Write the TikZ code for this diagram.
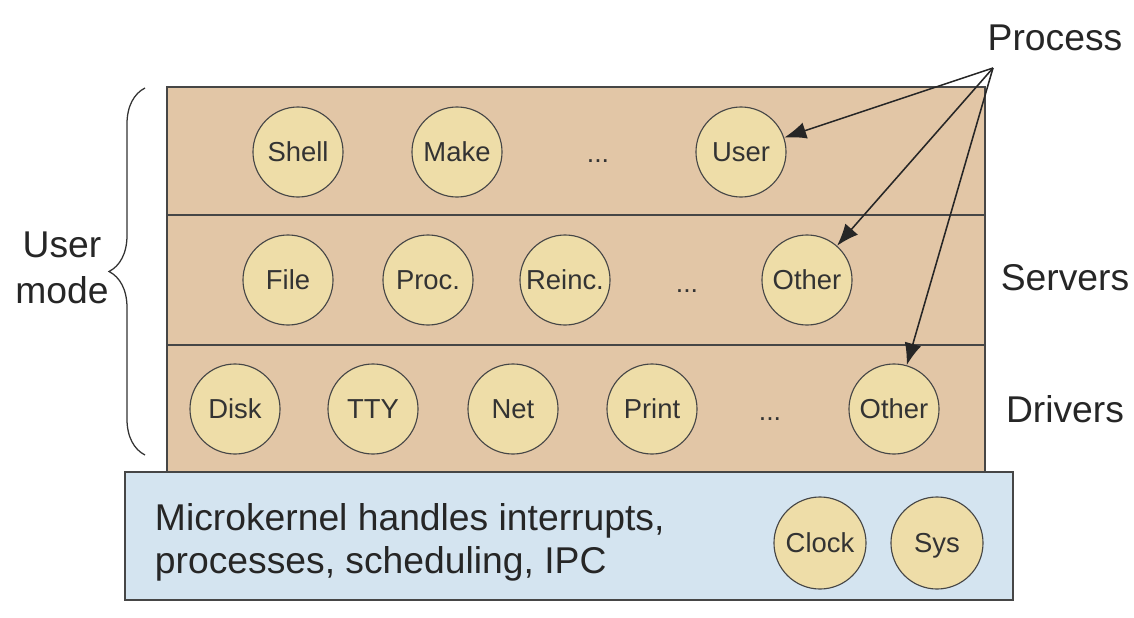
\documentclass[tikz,border=0pt]{standalone}
\usepackage{fontspec}
\setmainfont{Liberation Sans}
\usepackage{tikz}
\usetikzlibrary{arrows.meta}
\usetikzlibrary{decorations.pathreplacing}
\definecolor{layer}{RGB}{226,198,166}
\definecolor{proc}{RGB}{238,221,168}
\definecolor{kern}{RGB}{212,228,240}
\definecolor{edge}{RGB}{70,70,70}
\newcommand{\lblfont}{\fontsize{26.5}{30.5}\selectfont}

\begin{document}
\begin{tikzpicture}[x=0.025cm,y=-0.025cm,
  pc/.style={circle,draw=edge,fill=proc,line width=0.8pt,minimum size=2.25cm,inner sep=0pt,
    font=\fontsize{19.5}{21}\selectfont,text=black!80,text height=14pt,text depth=0pt},
  dt/.style={font=\fontsize{19}{21}\selectfont,text=black!80},
  lbl/.style={font=\lblfont,text=black!85,align=center},
  arr/.style={-{Latex[length=5.5mm,width=4.2mm]},line width=1.1pt,draw=black!85}]
\useasboundingbox (0,0) rectangle (1134,618);
% kernel and the three user layers
\draw[line width=1.2pt,draw=edge,fill=kern] (125,472) rectangle (1013,600);
\draw[line width=1.2pt,draw=edge,fill=layer] (167,87) rectangle (985,472);
\draw[line width=1.2pt,draw=edge] (167,215) -- (985,215);
\draw[line width=1.2pt,draw=edge] (167,345) -- (985,345);

\node (U1) [pc] at (298,152) {Shell};
\node (U2) [pc] at (457,152) {Make};
\node (U3) [dt] at (598,161) {...};
\node (U4) [pc] at (741,152) {User};

\node (S1) [pc] at (288,280) {File};
\node (S2) [pc] at (428,280) {Proc.};
\node (S3) [pc] at (565,280) {Reinc.};
\node (S4) [dt] at (687,291) {...};
\node (S5) [pc] at (807,280) {Other};

\node (D1) [pc] at (235,409) {Disk};
\node (D2) [pc] at (373,409) {TTY};
\node (D3) [pc] at (513,409) {Net};
\node (D4) [pc] at (652,409) {Print};
\node (D5) [dt] at (770,419) {...};
\node (D6) [pc] at (894,409) {Other};

\node (K1) [lbl,align=left,anchor=west] at (150,542) {Microkernel handles interrupts,\\processes, scheduling, IPC};
\node (K2) [pc,minimum size=2.3cm] at (820,543) {Clock};
\node (K3) [pc,minimum size=2.3cm] at (937,543) {Sys};

\node (PR) [lbl] at (1055,38) {Process};
\node (SV) [lbl] at (1065,278) {Servers};
\node (DR) [lbl] at (1065,409) {Drivers};
\node (UM) [lbl,font=\fontsize{26.5}{33}\selectfont] at (62,268) {User\\mode};

\coordinate (P0) at (993,68);
\draw[arr] (P0)--(U4);
\draw[arr] (P0)--(S5);
\draw[arr] (P0)--(D6);

\draw[decorate,decoration={brace,amplitude=0.9cm},line width=0.9pt,draw=black!80] (145,455)--(145,88);
\end{tikzpicture}
\end{document}
